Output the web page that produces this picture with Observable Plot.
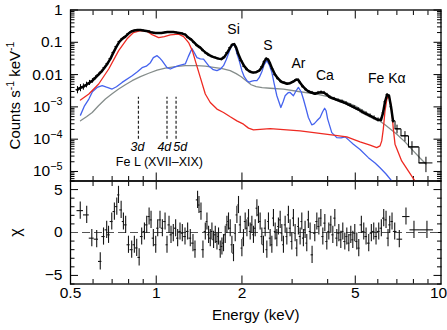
<!DOCTYPE html>
<html><head><meta charset="utf-8">
<script src="https://cdn.jsdelivr.net/npm/d3@7"></script>
<script src="https://cdn.jsdelivr.net/npm/@observablehq/plot@0.6"></script>
<style>
body{margin:0;background:#fff;}
#chart{position:relative;width:447px;height:330px;overflow:hidden;background:#fff;}
#chart svg{position:absolute;left:0;overflow:visible;}
</style></head><body><div id="chart"></div>
<script>
// ---- observed spectrum (counts s^-1 keV^-1) ----
const specE = [0.529,0.542,0.555,0.569,0.583,0.597,0.612,0.627,0.642,0.658,0.674,0.691,0.707,0.725,0.743,0.761,0.779,0.799,0.818,0.838,0.859,0.880,0.901,0.923,0.946,0.969,0.993,1.017,1.042,1.068,1.094,1.121,1.148,1.176,1.205,1.235,1.265,1.296,1.328,1.360,1.394,1.428,1.463,1.499,1.536,1.573,1.612,1.651,1.692,1.733,1.776,1.819,1.849,1.879,1.909,1.940,1.988,2.037,2.087,2.138,2.190,2.244,2.299,2.355,2.394,2.433,2.472,2.512,2.553,2.616,2.680,2.746,2.813,2.882,2.952,3.025,3.099,3.149,3.201,3.279,3.359,3.442,3.526,3.612,3.701,3.791,3.884,3.979,4.077,4.211,4.350,4.493,4.640,4.794,4.952,5.114,5.282,5.456,5.635,5.820,6.011,6.158,6.258,6.360,6.464,6.569,6.676,6.785,7.007,7.473,7.908,8.854];
const specV = [3.40e-3,3.92e-3,4.21e-3,4.85e-3,5.60e-3,6.47e-3,8.02e-3,9.93e-3,0.0123,0.0164,0.0218,0.0312,0.0479,0.0735,0.105,0.130,0.150,0.186,0.215,0.231,0.239,0.239,0.231,0.223,0.215,0.200,0.193,0.193,0.193,0.200,0.207,0.207,0.207,0.200,0.193,0.186,0.173,0.140,0.121,0.098,0.079,0.0684,0.0552,0.0462,0.0400,0.0360,0.0335,0.0312,0.0301,0.0347,0.0479,0.0684,0.0849,0.0879,0.0684,0.0446,0.0270,0.0182,0.0142,0.0123,0.0115,0.0119,0.0132,0.0176,0.0252,0.0312,0.0290,0.0218,0.0153,9.93e-3,7.46e-3,6.02e-3,5.60e-3,5.21e-3,5.40e-3,6.02e-3,6.95e-3,6.95e-3,5.60e-3,4.21e-3,3.40e-3,2.94e-3,2.74e-3,2.55e-3,2.74e-3,2.84e-3,2.74e-3,2.38e-3,1.99e-3,1.79e-3,1.60e-3,1.44e-3,1.29e-3,1.12e-3,9.72e-4,8.42e-4,7.05e-4,6.11e-4,5.29e-4,4.58e-4,3.97e-4,3.97e-4,6.56e-4,1.44e-3,2.38e-3,2.21e-3,1.01e-3,3.70e-4,2.09e-4,1.27e-4,5.76e-5,1.84e-5];
const specErr = [0.25,0.25,0.22,0.2,0.18,0.16,0.14,0.12,0.11,0.1,0.09,0.08,0.07,0.06,0.05,0.05,0.05,0.04,0.04,0.04,0.04,0.04,0.04,0.04,0.04,0.04,0.04,0.04,0.04,0.04,0.04,0.04,0.04,0.04,0.04,0.04,0.04,0.04,0.04,0.04,0.04,0.04,0.04,0.04,0.04,0.04,0.04,0.04,0.04,0.04,0.04,0.04,0.04,0.04,0.04,0.04,0.05,0.05,0.05,0.05,0.05,0.05,0.05,0.05,0.05,0.05,0.05,0.05,0.05,0.06,0.06,0.06,0.06,0.06,0.06,0.06,0.06,0.06,0.06,0.08,0.08,0.08,0.1,0.1,0.1,0.1,0.1,0.1,0.1,0.1,0.1,0.12,0.12,0.12,0.13,0.13,0.14,0.14,0.14,0.15,0.15,0.15,0.12,0.09,0.08,0.08,0.1,0.16,0.3,0.35,0.45,0.5];

// ---- model components ----
const redE = [0.542,0.580,0.628,0.681,0.738,0.790,0.832,0.880,0.923,0.967,1.020,1.068,1.121,1.199,1.248,1.299,1.339,1.371,1.428,1.487,1.548,1.634,1.723,1.819,1.920,2.025,2.109,2.195,2.512,3.201,4.190,4.669,5.197,5.635,5.947,6.109,6.193,6.273,6.360,6.448,6.531,6.622,6.714,6.801,6.895,7.277,7.675,8.103];
const redV = [1.63e-3,2.50e-3,5.11e-3,0.0149,0.0552,0.128,0.200,0.231,0.223,0.173,0.140,0.150,0.170,0.180,0.150,0.098,0.0552,0.0270,8.19e-3,2.50e-3,1.37e-3,8.55e-4,6.70e-4,4.93e-4,3.70e-4,2.92e-4,2.20e-4,1.95e-4,2.13e-4,1.81e-4,1.33e-4,1.18e-4,8.24e-5,6.51e-5,5.48e-5,6.19e-5,8.85e-5,2.09e-4,7.57e-4,1.66e-3,2.21e-3,1.66e-3,7.57e-4,2.09e-4,7.0e-5,2.12e-5,1.04e-5,5.07e-6];
const blueE = [0.542,0.560,0.580,0.597,0.620,0.646,0.669,0.700,0.725,0.759,0.823,0.859,0.892,0.923,0.954,0.977,1.007,1.026,1.048,1.091,1.121,1.158,1.199,1.265,1.296,1.335,1.360,1.390,1.428,1.466,1.527,1.586,1.634,1.678,1.723,1.761,1.794,1.834,1.864,1.894,1.920,1.956,1.999,2.037,2.082,2.121,2.167,2.208,2.257,2.299,2.349,2.394,2.446,2.492,2.547,2.595,2.652,2.739,2.790,2.836,2.905,2.952,3.032,3.099,3.157,3.227,3.287,3.359,3.422,3.517,3.583,3.664,3.762,3.840,3.903,3.950,3.998,4.135,4.306,4.459,4.605,4.756,4.924,5.197,5.558,5.867,6.109,6.412,6.714];
const blueV = [5.56e-4,1.08e-3,1.75e-3,2.94e-3,4.00e-3,4.52e-3,4.06e-3,3.57e-3,4.21e-3,5.73e-3,9.25e-3,0.0123,0.0164,0.0182,0.0234,0.0335,0.0386,0.0335,0.0270,0.0164,0.0149,0.0170,0.0189,0.0213,0.0360,0.0637,0.0479,0.0335,0.0305,0.0301,0.0189,0.0142,0.0132,0.0147,0.0189,0.0290,0.0446,0.0735,0.0879,0.0735,0.0446,0.0270,0.0132,8.61e-3,6.47e-3,5.81e-3,6.24e-3,6.47e-3,6.47e-3,8.02e-3,0.0123,0.0203,0.0270,0.0203,0.0117,5.21e-3,2.21e-3,9.58e-4,1.44e-3,2.21e-3,2.74e-3,2.80e-3,2.21e-3,3.16e-3,4.00e-3,2.94e-3,1.75e-3,8.73e-4,4.69e-4,2.78e-4,2.99e-4,3.70e-4,4.69e-4,7.05e-4,9.05e-4,7.57e-4,4.27e-4,1.60e-4,1.12e-4,1.10e-4,1.18e-4,9.18e-5,7.0e-5,4.82e-5,2.68e-5,1.84e-5,1.31e-5,8.36e-6,5.07e-6];
const grayE = [0.542,0.569,0.596,0.627,0.663,0.700,0.738,0.779,0.823,0.880,0.941,1.007,1.076,1.167,1.265,1.390,1.487,1.590,1.705,1.819,1.909,1.988,2.070,2.155,2.244,2.355,2.512,2.797,3.201,3.664,4.077,4.542,4.992,5.487,5.867,6.360,6.996,7.473,7.992,8.437,8.854];
const grayV = [3.70e-4,4.93e-4,6.70e-4,1.08e-3,1.75e-3,2.55e-3,3.57e-3,4.85e-3,6.47e-3,8.61e-3,0.0110,0.0137,0.0158,0.0176,0.0189,0.0189,0.0182,0.0167,0.0153,0.0132,0.0107,8.61e-3,6.47e-3,4.85e-3,4.21e-3,3.92e-3,3.78e-3,3.57e-3,2.94e-3,2.50e-3,1.99e-3,1.55e-3,1.08e-3,6.56e-4,4.58e-4,2.78e-4,1.43e-4,8.24e-5,4.33e-5,2.62e-5,1.71e-5];

// ---- residuals (chi) ----
const resE = [0.541,0.570,0.594,0.618,0.636,0.653,0.670,0.680,0.698,0.713,0.727,0.737,0.753,0.767,0.781,0.799,0.820,0.838,0.854,0.871,0.889,0.909,0.926,0.944,0.959,0.977,0.996,1.012,1.031,1.051,1.074,1.091,1.109,1.127,1.148,1.170,1.189,1.212,1.235,1.262,1.289,
1.317,1.346,1.368,1.397,1.413,1.436,1.459,1.487,1.507,1.527,1.548,1.569,1.590,1.612,1.634,1.655,1.678,1.701,1.723,1.747,1.771,1.794,1.819,1.844,1.868,1.894,1.920,1.945,1.972,1.999,2.025,2.053,2.082,2.109,2.138,2.167,2.195,2.226,2.257,2.286,2.317,2.349,2.380,2.413,2.446,2.478,2.512,2.547,2.580,2.616,2.652,2.686,2.724,2.761,2.797,2.836,2.875,2.912,2.952,2.993,3.032,3.074,3.116,3.157,3.201,3.245,3.287,3.332,3.378,3.422,3.470,
3.526,3.604,3.664,3.724,3.785,3.846,3.909,3.972,4.037,4.103,4.170,4.238,4.306,4.377,4.448,4.520,4.594,4.669,4.745,4.822,4.901,4.980,5.061,5.143,5.252,5.355,5.456,5.575,5.694,5.805,5.914,6.044,6.173,6.293,6.412,6.516,6.606,6.730,6.878,7.138,7.534,8.037,8.926];
const resChi = [2.55,2.05,-0.66,-0.78,-3.37,-0.47,0.31,-0.27,1.28,2.44,3.02,4.38,2.63,1.28,0.89,-1.43,-2.0,-1.43,-1.8,-2.9,-0.47,0.12,0.89,1.86,1.47,-0.66,-1.43,0.5,1.47,0.5,1.28,-1.43,0.89,-0.27,-0.08,0.5,-0.66,0.12,-0.08,-0.47,0.12,
-0.66,-1.24,-2.0,3.8,3.2,2.44,-2.0,0.12,1.28,-0.27,-0.66,0.12,-0.85,-0.27,-1.05,-0.47,-2.0,-1.63,-1.24,-0.27,0.89,1.28,0.5,-1.43,-2.4,-0.08,2.05,3.2,0.89,-1.82,-0.66,1.28,0.5,1.67,0.12,0.89,-0.27,0.5,2.83,2.05,1.28,-0.47,-1.43,0.5,-2.0,1.28,-0.66,-1.43,1.67,0.12,-0.66,0.7,1.47,-0.08,-1.43,0.89,-0.47,2.05,0.5,-1.05,1.67,-0.08,-1.82,0.7,-0.47,1.28,-0.66,0.31,-1.24,1.47,0.12,
-2.6,-0.08,1.28,0.7,1.67,-0.47,1.09,-1.05,0.12,0.89,-0.27,1.67,-0.66,-0.08,-0.85,0.12,-1.05,-0.47,-1.24,-0.27,-0.85,-0.08,-1.05,-1.82,0.89,0.12,-0.47,-1.24,-0.08,0.12,-0.47,0.12,0.5,1.67,1.47,-0.66,0.89,1.28,0.12,-0.78,1.86,0.31,0.31];

// ---- annotations ----
const lineNames = ["Si","S","Ar","Ca","Fe Kα"];
const lineE = [1.868,2.465,3.16,3.91,6.45];
const lineV = [0.243,0.079,0.0223,0.00925,0.0073];
const feLineE = [0.866,1.091,1.174];
const feLineLabels = ["3d","4d","5d"];
const feLabelE = [0.860,1.068,1.215];
const feLabelV = 5.76e-5;
const feLineRange = [1.0e-4, 2.0e-3];
const feGroupLabel = "Fe L (XVII–XIX)";
const feGroupE = 1.026, feGroupV = 1.97e-5;

// ---- axes ----
const xDomain = [0.5, 10];
const xLabelTicks = [0.5, 1, 2, 5];
const xLastLabel = 10;
const xMajor = [1, 2, 5];
const xMinor = [0.6, 0.7, 0.8, 0.9, 3, 4, 6, 7, 8, 9];
const yTopDomain = [5.07e-6, 1];
const yTopMajor = [1e-5, 1e-4, 1e-3, 1e-2, 1e-1, 1];
const yTopMinor = [];
for (const p of [1e-6,1e-5,1e-4,1e-3,1e-2,1e-1]) for (let m = 2; m <= 9; m++) { const v = m*p; if (v >= yTopDomain[0] && v <= 1) yTopMinor.push(v); }
const yBotDomain = [-6, 6];
const yBotMajor = [-5, 0, 5];
const yBotMinor = [-6,-4,-3,-2,-1,1,2,3,4,6];
const yTitle = "Counts s^{-1} keV^{-1}";
const xTitle = "Energy (keV)";
const chiTitle = "χ";

// ---- build tables ----
function binEdges(E) {
  return E.map((e, i) => {
    const hi = i < E.length - 1 ? Math.sqrt(e * E[i + 1]) : e * e / Math.sqrt(E[i - 1] * e);
    const lo = i > 0 ? Math.sqrt(E[i - 1] * e) : e * e / Math.sqrt(e * E[i + 1]);
    return [lo, hi];
  });
}
const specEdges = binEdges(specE);
const spec = specE.map((e, i) => ({E: e, v: specV[i], lo: specEdges[i][0], hi: specEdges[i][1], y1: specV[i] * (1 - specErr[i]), y2: specV[i] * (1 + specErr[i])}));
const resEdges = binEdges(resE);
const res = resE.map((e, i) => ({E: e, chi: resChi[i], lo: resEdges[i][0], hi: resEdges[i][1]}));
const mk = (E, V) => E.map((e, i) => ({E: e, v: V[i]}));
const red = mk(redE, redV), blue = mk(blueE, blueV), gray = mk(grayE, grayV);
const lines = lineNames.map((n, i) => ({n, E: lineE[i], v: lineV[i]}));
const feLines = feLineE.map((e, i) => ({E: e, lab: feLineLabels[i], lE: feLabelE[i]}));

const font = "'Liberation Sans', Arial, Helvetica, sans-serif";
const noLab = () => "";
const supFmt = d => d >= 0.01 ? String(+d.toPrecision(3)) : "10^{" + String(Math.round(Math.log10(d))).replace("-", "−") + "}";

function tickAxes(kind) {
  const m = [];
  m.push(Plot.axisX({anchor: "bottom", ticks: xMajor, tickSize: -8, tickFormat: noLab, label: null}));
  m.push(Plot.axisX({anchor: "bottom", ticks: xMinor, tickSize: -4.5, tickFormat: noLab, label: null}));
  m.push(Plot.axisX({anchor: "top", ticks: xMajor, tickSize: -8, tickFormat: noLab, label: null}));
  m.push(Plot.axisX({anchor: "top", ticks: xMinor, tickSize: -4.5, tickFormat: noLab, label: null}));
  const maj = kind === "top" ? yTopMajor : yBotMajor;
  const min = kind === "top" ? yTopMinor : yBotMinor;
  for (const a of ["left", "right"]) {
    m.push(Plot.axisY({anchor: a, ticks: maj, tickSize: -8, tickFormat: noLab, label: null}));
    m.push(Plot.axisY({anchor: a, ticks: min, tickSize: -4.5, tickFormat: noLab, label: null}));
  }
  return m;
}

const topPlot = Plot.plot({
  width: 447, height: 181,
  marginLeft: 70, marginRight: 6.5, marginTop: 9.5, marginBottom: 0.5,
  style: {fontFamily: font, fontSize: "15px", background: "transparent", color: "#000"},
  x: {type: "log", domain: xDomain},
  y: {type: "log", domain: yTopDomain},
  marks: [
    ...tickAxes("top"),
    Plot.axisY({anchor: "left", ticks: yTopMajor, tickSize: 0, tickPadding: 8, tickFormat: supFmt, label: null, fontSize: 15.5}),
    Plot.text([yTitle], {frameAnchor: "left", textAnchor: "middle", dx: -55, rotate: -90, fontSize: 15, text: d => d}),
    Plot.line(gray, {x: "E", y: "v", stroke: "#858d8b", strokeWidth: 1.3, clip: true}),
    Plot.line(blue, {x: "E", y: "v", stroke: "#4563ee", strokeWidth: 1.3, clip: true}),
    Plot.line(red, {x: "E", y: "v", stroke: "#ee2a22", strokeWidth: 1.3, clip: true}),
    Plot.line(spec.filter(d => d.E < 6.9), {x: "E", y: "v", stroke: "#000", strokeWidth: 2.5}),
    Plot.line(spec.filter(d => d.E > 6.7), {x: "E", y: "v", stroke: "#000", strokeWidth: 1, curve: "step"}),
    Plot.ruleX(spec, {x: "E", y1: "y1", y2: "y2", stroke: "#000", strokeWidth: 1}),
    Plot.ruleY(spec, {y: "v", x1: "lo", x2: "hi", stroke: "#000", strokeWidth: 1}),
    Plot.ruleX(feLines, {x: "E", y1: feLineRange[0], y2: feLineRange[1], stroke: "#222", strokeWidth: 1.2, strokeDasharray: "3,2"}),
    Plot.text(feLines, {x: "lE", y: () => feLabelV, text: "lab", fontSize: 12.5, fontStyle: "italic"}),
    Plot.text([feGroupLabel], {x: () => feGroupE, y: () => feGroupV, text: d => d, fontSize: 12.5}),
    Plot.text(lines, {x: "E", y: "v", text: "n", fontSize: 14}),
    Plot.frame({stroke: "#000", strokeWidth: 1.3})
  ]
});

const botPlot = Plot.plot({
  width: 447, height: 158,
  marginLeft: 70, marginRight: 6.5, marginTop: 8.5, marginBottom: 46.5,
  style: {fontFamily: font, fontSize: "15px", background: "transparent", color: "#000"},
  x: {type: "log", domain: xDomain},
  y: {domain: yBotDomain},
  marks: [
    ...tickAxes("bot"),
    Plot.axisY({anchor: "left", ticks: yBotMajor, tickSize: 0, tickPadding: 8, tickFormat: d => d < 0 ? "−" + Math.abs(d) : String(d), label: null, fontSize: 15.5}),
    Plot.text(xLabelTicks, {x: d => d, frameAnchor: "bottom", dy: 13.5, text: d => String(d), fontSize: 15.5}),
    Plot.text([xLastLabel], {x: d => d, frameAnchor: "bottom", dy: 13.5, dx: -2.5, text: d => String(d), fontSize: 15.5}),
    Plot.text([chiTitle], {frameAnchor: "left", textAnchor: "middle", dx: -55, rotate: -90, fontSize: 16, text: d => d}),
    Plot.text([xTitle], {frameAnchor: "bottom", textAnchor: "middle", dy: 36, fontSize: 15, text: d => d}),
    Plot.ruleY([0], {stroke: "#555", strokeWidth: 1, strokeDasharray: "8,4"}),
    Plot.ruleX(res, {x: "E", y1: d => d.chi - 1, y2: d => d.chi + 1, stroke: "#151515", strokeWidth: 1.1}),
    Plot.ruleY(res, {y: "chi", x1: "lo", x2: "hi", stroke: "#151515", strokeWidth: 1.1}),
    Plot.frame({stroke: "#000", strokeWidth: 1.3})
  ]
});

const chart = document.getElementById("chart");
topPlot.style.top = "0px";
botPlot.style.top = "172px";
chart.appendChild(botPlot);
chart.appendChild(topPlot);

// superscript helper: turns "^{...}" into raised tspans
function supify(svg) {
  svg.querySelectorAll("text").forEach(t => {
    const s = t.textContent;
    if (!s.includes("^{")) return;
    const fs = parseFloat(getComputedStyle(t).fontSize) || 15;
    const shift = fs * 0.42;
    while (t.firstChild) t.removeChild(t.firstChild);
    const parts = s.split(/\^\{([^}]*)\}/);
    let raised = false;
    parts.forEach((p, i) => {
      if (p === "") return;
      const ts = document.createElementNS("http://www.w3.org/2000/svg", "tspan");
      ts.textContent = p;
      if (i % 2 === 1) { ts.setAttribute("dy", -shift); ts.setAttribute("font-size", fs * 0.7); raised = true; }
      else if (raised) { ts.setAttribute("dy", shift); raised = false; }
      t.appendChild(ts);
    });
  });
}
supify(topPlot);
supify(botPlot);
</script>
</body></html>
